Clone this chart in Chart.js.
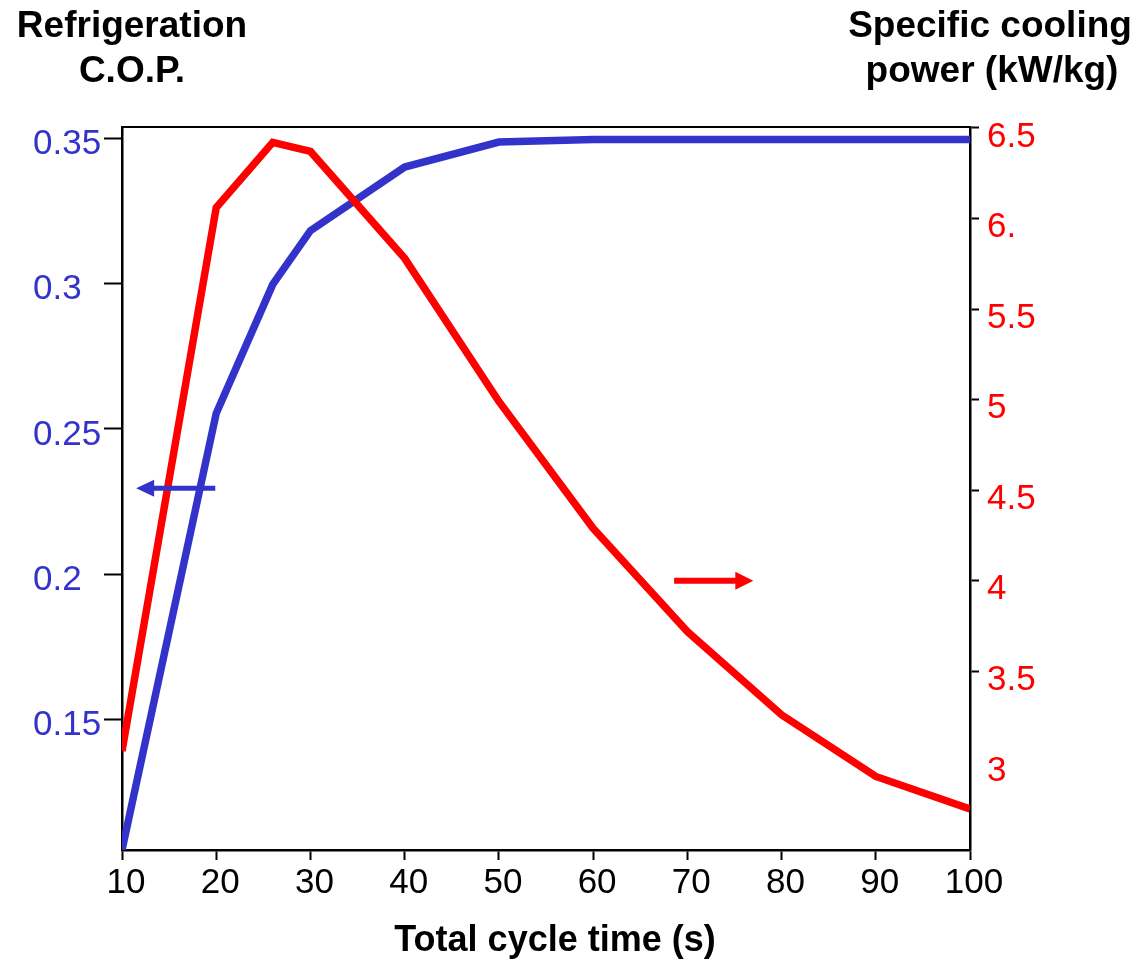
<!DOCTYPE html>
<html>
<head>
<meta charset="utf-8">
<script src="https://cdn.jsdelivr.net/npm/chart.js@4.4.1/dist/chart.umd.min.js"></script>
<style>
html,body{margin:0;padding:0;background:#fff;}
#wrap{width:1148px;height:959px;position:relative;}
</style>
</head>
<body>
<div id="wrap"><canvas id="c" width="1148" height="959"></canvas></div>
<script>
// ---- data ----
const cycleTime = [10, 20, 26, 30, 40, 50, 60, 70, 80, 90, 100];
const copValues = [0.105, 0.2554, 0.2998, 0.3183, 0.3402, 0.3488, 0.3497, 0.3497, 0.3497, 0.3497, 0.3497];
const scpValues = [3.06, 6.06, 6.42, 6.37, 5.78, 4.99, 4.29, 3.72, 3.26, 2.92, 2.74];
const xTicks = [10, 20, 30, 40, 50, 60, 70, 80, 90, 100];
const copTicks = [0.15, 0.2, 0.25, 0.3, 0.35];
const scpTicks = [3, 3.5, 4, 4.5, 5, 5.5, 6, 6.5];
const scpTickLabels = ["3", "3.5", "4", "4.5", "5", "5.5", "6.", "6.5"];
const leftTitle = ["Refrigeration", "C.O.P."];
const rightTitle = ["Specific cooling", "power (kW/kg)"];
const xTitle = "Total cycle time (s)";
// arrow annotations in data units: [xFrom, xTo, y]
const copArrow = [19.9, 11.5, 0.2296];
const scpArrow = [68.6, 77.0, 4.0];

const BLUE = '#3333CC';
const RED = '#FF0000';
const FONT = "'Liberation Sans', Arial, Helvetica, sans-serif";

function arrow(ctx, x1, x2, y, color, shaft, headLen, headHalf) {
  const dir = Math.sign(x2 - x1);
  ctx.save();
  ctx.strokeStyle = color;
  ctx.fillStyle = color;
  ctx.lineWidth = shaft;
  ctx.beginPath();
  ctx.moveTo(x1, y);
  ctx.lineTo(x2 - dir * headLen * 0.8, y);
  ctx.stroke();
  ctx.beginPath();
  ctx.moveTo(x2, y);
  ctx.lineTo(x2 - dir * headLen, y - headHalf);
  ctx.lineTo(x2 - dir * headLen, y + headHalf);
  ctx.closePath();
  ctx.fill();
  ctx.restore();
}

const decor = {
  id: 'decor',
  afterDatasetsDraw(chart) {
    const ctx = chart.ctx;
    const xs = chart.scales.x, yl = chart.scales.yCop, yr = chart.scales.yScp;
    arrow(ctx, xs.getPixelForValue(copArrow[0]), xs.getPixelForValue(copArrow[1]), yl.getPixelForValue(copArrow[2]), BLUE, 5, 18, 8.5);
    arrow(ctx, xs.getPixelForValue(scpArrow[0]), xs.getPixelForValue(scpArrow[1]), yr.getPixelForValue(scpArrow[2]), RED, 6, 18, 9);
  },
  afterDraw(chart) {
    const ctx = chart.ctx;
    const a = chart.chartArea;
    ctx.save();
    ctx.strokeStyle = '#000';
    ctx.lineWidth = 2;
    ctx.beginPath();
    ctx.moveTo(a.left - 1, a.top);
    ctx.lineTo(a.right + 1, a.top);
    ctx.stroke();
    ctx.fillStyle = '#000';
    ctx.font = 'bold 37px ' + FONT;
    ctx.textAlign = 'center';
    ctx.textBaseline = 'alphabetic';
    ctx.fillText(leftTitle[0], 132, 37);
    ctx.fillText(leftTitle[1], 132, 82);
    ctx.fillText(rightTitle[0], 990, 37);
    ctx.fillText(rightTitle[1], 992, 82);
    ctx.font = 'bold 36px ' + FONT;
    ctx.fillText(xTitle, 555, 951);
    ctx.restore();
  }
};

new Chart(document.getElementById('c'), {
  type: 'line',
  data: {
    datasets: [
      {
        label: 'Specific cooling power (kW/kg)',
        data: cycleTime.map((t, i) => ({x: t, y: scpValues[i]})),
        yAxisID: 'yScp',
        borderColor: RED,
        borderWidth: 7.5,
        pointRadius: 0,
        tension: 0,
        order: 0
      },
      {
        label: 'Refrigeration C.O.P.',
        data: cycleTime.map((t, i) => ({x: t, y: copValues[i]})),
        yAxisID: 'yCop',
        borderColor: BLUE,
        borderWidth: 7.5,
        pointRadius: 0,
        tension: 0,
        order: 1
      }
    ]
  },
  options: {
    responsive: false,
    animation: false,
    layout: {padding: {left: 33, right: 0, top: 127, bottom: 0}},
    plugins: {legend: {display: false}, tooltip: {enabled: false}, title: {display: false}},
    scales: {
      x: {
        type: 'linear',
        position: 'bottom',
        min: 10, max: 100,
        afterFit(s) { s.height = 109; },
        afterBuildTicks(s) { s.ticks = xTicks.map(v => ({value: v})); },
        grid: {drawOnChartArea: false, tickLength: 10, tickWidth: 2, tickColor: '#000'},
        border: {display: true, color: '#000', width: 2.5},
        ticks: {
          autoSkip: false, maxRotation: 0, minRotation: 0,
          color: '#000', padding: 2, labelOffset: 4,
          font: {family: FONT, size: 35}
        }
      },
      yCop: {
        type: 'linear',
        position: 'left',
        min: 0.105, max: 0.354,
        afterFit(s) { s.width = 89; },
        afterBuildTicks(s) { s.ticks = copTicks.map(v => ({value: v})); },
        grid: {drawOnChartArea: false, tickLength: 18, tickWidth: 2, tickColor: '#000'},
        border: {display: true, color: '#000', width: 2.5},
        ticks: {
          crossAlign: 'far', color: BLUE, labelOffset: 6, padding: 0,
          font: {family: FONT, size: 35},
          callback: v => String(v)
        }
      },
      yScp: {
        type: 'linear',
        position: 'right',
        min: 2.514, max: 6.505,
        afterFit(s) { s.width = 178; },
        afterBuildTicks(s) { s.ticks = scpTicks.map(v => ({value: v})); },
        grid: {
          drawOnChartArea: false, tickLength: 9, tickWidth: 2,
          tickColor: c => (c.tick && c.tick.value === 3) ? 'rgba(0,0,0,0)' : '#000'
        },
        border: {display: true, color: '#000', width: 2.5},
        ticks: {
          color: RED, labelOffset: 9, padding: 8,
          font: {family: FONT, size: 35},
          callback: v => { const i = scpTicks.indexOf(v); return i >= 0 ? scpTickLabels[i] : ''; }
        }
      }
    }
  },
  plugins: [decor]
});
</script>
</body>
</html>
